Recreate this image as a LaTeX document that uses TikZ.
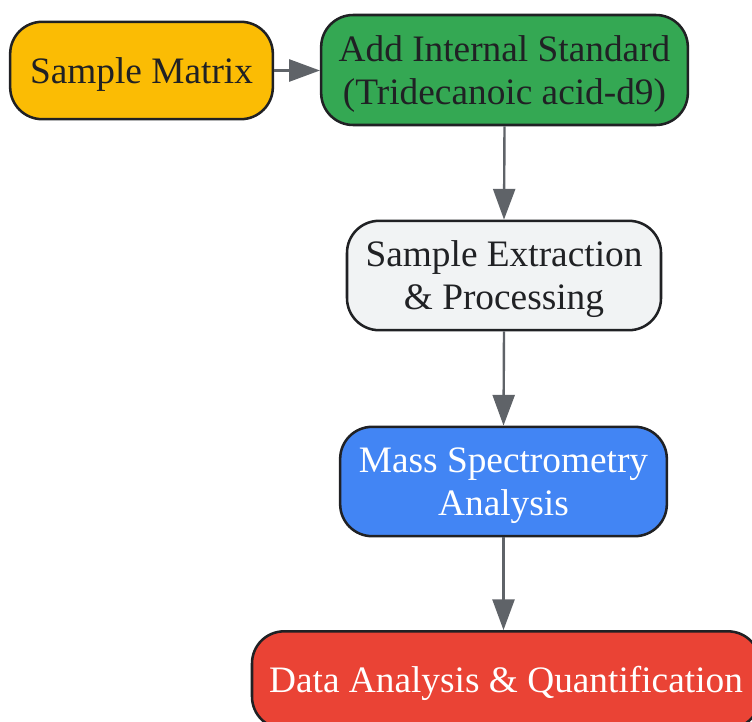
\documentclass[tikz,border=0pt]{standalone}
\usepackage{fontspec}
\setmainfont{Liberation Serif}
\usetikzlibrary{positioning}
\usetikzlibrary{arrows.meta}

\definecolor{matrixfill}{HTML}{FBBC04}
\definecolor{stdfill}{HTML}{34A853}
\definecolor{prepfill}{HTML}{F1F3F4}
\definecolor{msfill}{HTML}{4285F4}
\definecolor{datafill}{HTML}{EA4335}
\definecolor{edge}{HTML}{202124}
\definecolor{flow}{HTML}{5F6368}

% struts so the text sits like the browser line box
\newcommand{\topstrut}{\rule{0pt}{26pt}}
\newcommand{\botstrut}{\rule[-7pt]{0pt}{7pt}}

\tikzset{
  stage/.style={rectangle,rounded corners=24pt,draw=edge,line width=1.9pt,align=center,
    text=edge,font=\fontsize{28}{32}\selectfont,inner sep=0pt},
  flowarrow/.style={draw=flow,line width=1.8pt,-{Triangle[length=23pt,width=16.5pt]}}
}

\begin{document}
\begin{tikzpicture}[x=0.75pt,y=-0.75pt]
\useasboundingbox (0,0) rectangle (752,721);
\clip (0,0) rectangle (752,721);

\node[stage,fill=matrixfill,minimum width=197pt,minimum height=73pt] (matrix) at (141.5,70.5) {\topstrut Sample Matrix\botstrut};
\node[stage,fill=stdfill,minimum width=275pt,minimum height=82.5pt] (istd) at (504.5,70) {\topstrut Add Internal Standard\\(Tridecanoic acid-d9)\botstrut};
\node[stage,fill=prepfill,minimum width=235.5pt,minimum height=82pt] (prep) at (504,275.5) {\topstrut Sample Extraction\\\& Processing\botstrut};
\node[stage,fill=msfill,text=white,minimum width=245pt,minimum height=82pt] (ms) at (503.5,481.5) {\topstrut Mass Spectrometry\\Analysis\botstrut};
\node[stage,fill=datafill,text=white,minimum width=381pt,minimum height=73pt] (data) at (506,680) {\topstrut Data Analysis \& Quantification\botstrut};

\draw[flowarrow] (matrix.east) -- (istd.west |- matrix.east);
\draw[flowarrow] (istd.south) -- (prep.north);
\draw[flowarrow] (prep.south) -- (ms.north);
\draw[flowarrow] (ms.south) -- (ms.south |- data.north);

\end{tikzpicture}
\end{document}
